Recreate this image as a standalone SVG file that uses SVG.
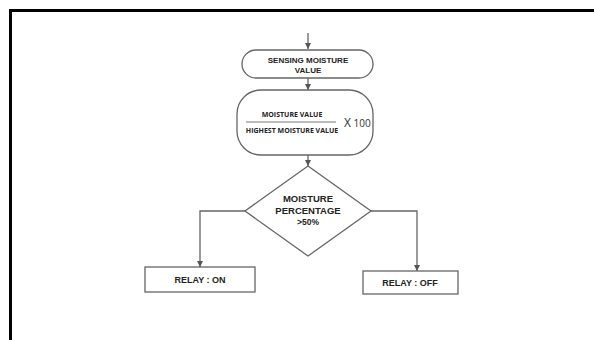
<svg xmlns="http://www.w3.org/2000/svg" width="594" height="340" viewBox="0 0 594 340">
<style>
.sh{fill:#fff;stroke:#666;stroke-width:1.3}
.cn{fill:none;stroke:#666;stroke-width:1.3;marker-end:url(#ah)}
.t{font-family:"Liberation Sans",Arial,sans-serif;font-weight:bold;fill:#222;text-anchor:middle}
.f{font-family:"Open Sans","Liberation Sans",sans-serif;font-weight:bold;fill:#222;text-anchor:middle;font-size:7px}
</style>
<defs>
<marker id="ah" viewBox="0 0 10 10" refX="10" refY="5" markerWidth="6" markerHeight="6" markerUnits="userSpaceOnUse" orient="auto"><path d="M0,0L10,5L0,10z" fill="#555"/></marker>
</defs>
<rect width="594" height="340" fill="#fff"/>
<path d="M10.5,340V10.5H594" fill="none" stroke="#000" stroke-width="3"/>
<g id="connectors">
<path class="cn" d="M308,33V49"/>
<path class="cn" d="M308,78V90"/>
<path class="cn" d="M308,155V166"/>
<path class="cn" d="M245,211H200V267"/>
<path class="cn" d="M371,211H417V271"/>
</g>
<g id="sense">
<rect class="sh" x="242" y="50" width="131" height="28" rx="14"/>
<text class="t" x="308" y="63" font-size="8">SENSING MOISTURE</text>
<text class="t" x="308" y="73" font-size="8">VALUE</text>
</g>
<g id="calc">
<rect class="sh" x="237" y="90" width="136" height="65" rx="24"/>
<text class="f" x="292" y="117">MOISTURE VALUE</text>
<line x1="246" y1="122" x2="336" y2="122" stroke="#555" stroke-width="0.8"/>
<text class="f" x="292" y="133">HIGHEST MOISTURE VALUE</text>
<text x="344" y="127" font-family="'Open Sans','Liberation Sans',sans-serif" fill="#333" font-size="10"><tspan font-size="12">X</tspan> 100</text>
</g>
<g id="decision">
<path class="sh" d="M308,166L371,211L308,256L245,211z"/>
<text class="t" x="308" y="202" font-size="9.5">MOISTURE</text>
<text class="t" x="308" y="214" font-size="9.5">PERCENTAGE</text>
<text class="t" x="308" y="225" font-size="8.5">&gt;50%</text>
</g>
<g id="relay-on">
<rect class="sh" x="145" y="267" width="110" height="25"/>
<text class="t" x="200" y="283" font-size="9">RELAY : ON</text>
</g>
<g id="relay-off">
<rect class="sh" x="363" y="271" width="95" height="23"/>
<text class="t" x="410" y="286" font-size="9">RELAY : OFF</text>
</g>
</svg>
